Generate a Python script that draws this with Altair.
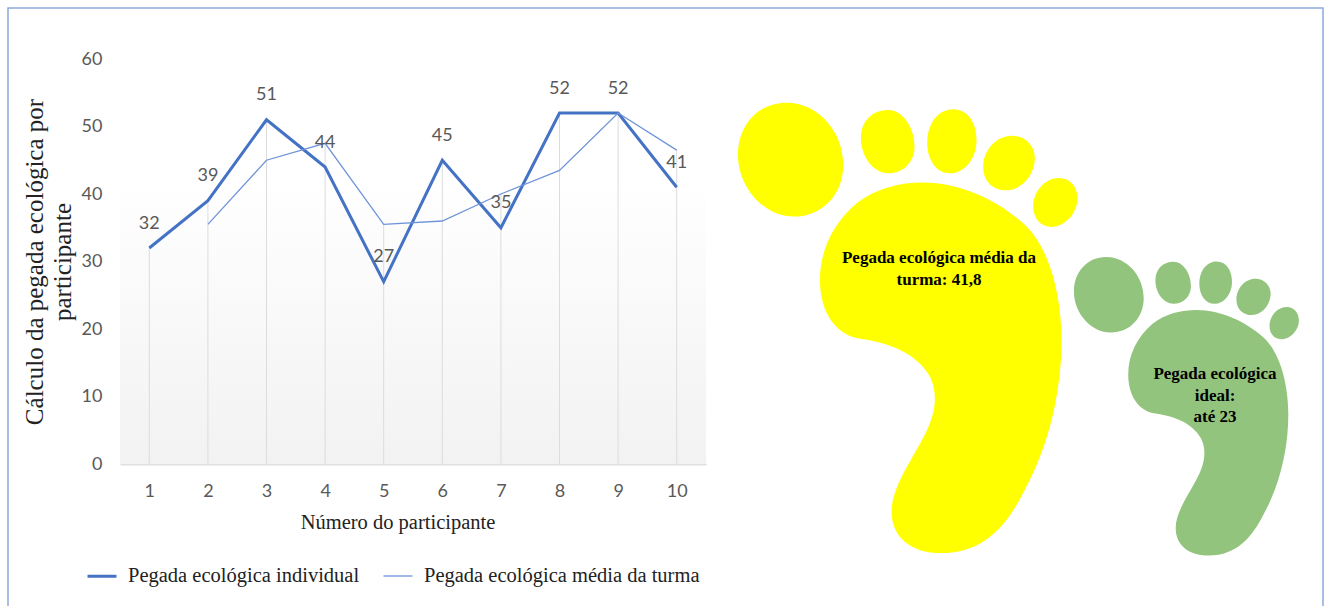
import altair as alt
import pandas as pd

participantes = [1, 2, 3, 4, 5, 6, 7, 8, 9, 10]
individual = [32, 39, 51, 44, 27, 45, 35, 52, 52, 41]
media_turma = [None, 35.5, 45, 47.5, 35.5, 36, 40, 43.5, 52, 46.5]

SERIE_IND = "Pegada ecológica individual"
SERIE_MED = "Pegada ecológica média da turma"

SERIF = "Liberation Serif"
NARROW = "Lato, sans-serif"
GREY = "#595959"
BLUE = "#4472C4"

linhas = pd.DataFrame(
    [{"p": p, "serie": SERIE_IND, "valor": v} for p, v in zip(participantes, individual)]
    + [{"p": p, "serie": SERIE_MED, "valor": v} for p, v in zip(participantes, media_turma) if v is not None]
)
pontos = pd.DataFrame({
    "p": participantes,
    "valor": individual,
    "topo": [max(a, b or 0) for a, b in zip(individual, media_turma)],
})

x_enc = alt.X(
    "p:O",
    scale=alt.Scale(type="point", padding=0.5),
    axis=alt.Axis(
        title="Número do participante",
        titleFont=SERIF, titleFontSize=20.5, titleFontWeight="normal", titleColor="#222222",
        titlePadding=12, titleX=277.5, titleAlign="center",
        labelAngle=0, labelFont=NARROW, labelFontSize=18, labelColor=GREY, labelPadding=18,
        ticks=False, grid=False,
        domainColor="#e0e0e0", domainWidth=2,
    ),
)
eixo_y = alt.Axis(
    title=["Cálculo da pegada ecológica por", "participante"],
    titleFont=SERIF, titleFontSize=25, titleFontWeight="normal", titleColor="#222222",
    titlePadding=6, titleLineHeight=28,
    values=[0, 10, 20, 30, 40, 50, 60],
    labelFont=NARROW, labelFontSize=18, labelColor=GREY, labelPadding=18,
    ticks=False, grid=False, domain=False,
)
escala_y = alt.Scale(domain=[0, 60])
y_enc = alt.Y("valor:Q", scale=escala_y, axis=eixo_y)

# Soft grey wash behind the plot
fundo = alt.Chart(pontos).mark_rect(
    fill=alt.Gradient(
        gradient="linear", x1=0, x2=0, y1=0, y2=1,
        stops=[
            alt.GradientStop(offset=0.3, color="#ffffff"),
            alt.GradientStop(offset=1, color="#f2f2f2"),
        ],
    )
).encode(x=alt.value(0), x2=alt.value(586), y=alt.value(0), y2=alt.value(405))

# Drop lines from the highest series down to the baseline
quedas = alt.Chart(pontos).mark_rule(color="#dcdcdc", strokeWidth=1).encode(
    x=x_enc, y=alt.Y("topo:Q", scale=escala_y, axis=eixo_y), y2=alt.datum(0)
)

series = alt.Chart(linhas).mark_line().encode(
    x=x_enc,
    y=y_enc,
    color=alt.Color(
        "serie:N",
        scale=alt.Scale(domain=[SERIE_IND, SERIE_MED], range=[BLUE, "#6F94DA"]),
        legend=alt.Legend(
            title=None, orient="none", legendX=-34, legendY=501, columns=2,
            symbolType="stroke", symbolSize=841, columnPadding=20, labelOffset=10,
            labelFont=SERIF, labelFontSize=20.5, labelColor="#222222", labelLimit=320,
            symbolOpacity=1,
        ),
    ),
    strokeWidth=alt.StrokeWidth(
        "serie:N",
        scale=alt.Scale(domain=[SERIE_IND, SERIE_MED], range=[3, 1.3]),
        legend=None,
    ),
    detail="serie:N",
)

rotulos = alt.Chart(pontos).mark_text(
    font=NARROW, fontSize=18, color=GREY, dy=-24.5, baseline="middle"
).encode(x=x_enc, y=y_enc, text="valor:Q")

# One outline holding the sole and the five toes, drawn at two sizes
PE = (
    "M54 195 C54 105 115 38 200 38 C295 38 370 125 370 225 C370 315 305 380 222 380 C130 380 54 290 54 195 Z "
    "M423 145 C423 95 455 60 505 60 C550 60 584 115 584 170 C584 215 550 250 505 250 C460 250 423 200 423 145 Z "
    "M622 160 C622 100 655 58 700 58 C745 58 770 100 770 150 C770 205 735 250 690 250 C650 250 622 210 622 160 Z "
    "M790 230 C790 180 830 137 875 137 C915 137 945 165 945 205 C945 255 905 301 860 301 C820 301 790 275 790 230 Z "
    "M940 350 C940 305 975 264 1018 264 C1050 264 1073 290 1073 325 C1073 370 1035 411 995 411 C962 411 940 385 940 350 Z "
    "M610 278 C720 278 830 330 910 400 C990 470 1025 620 1025 750 C1025 900 990 1060 915 1200 "
    "C860 1310 790 1390 665 1390 C570 1390 515 1340 515 1265 C515 1180 600 1080 630 1000 "
    "C650 950 650 900 630 860 C590 790 510 760 430 748 C350 740 300 670 300 570 "
    "C300 480 340 400 410 340 C470 295 540 278 610 278 Z"
)


def pe(cor, tamanho, px, py):
    return alt.Chart(pontos.head(1)).mark_point(
        shape=PE, filled=True, fill=cor, opacity=1, size=tamanho
    ).encode(x=alt.value(px), y=alt.value(py))


def nota(linhas_texto, px, py):
    return alt.Chart(pontos.head(1)).mark_text(
        text=linhas_texto, font=SERIF, fontSize=17, fontWeight="bold", color="#000000",
        lineHeight=21.5, align="center", baseline="middle",
    ).encode(x=alt.value(px), y=alt.value(py))


pe_media = pe("#FFFF00", 0.444, 600, 31)
pe_ideal = pe("#93C47D", 0.195, 942, 189.6)
nota_media = nota(["Pegada ecológica média da", "turma: 41,8"], 819, 199)
nota_ideal = nota(["Pegada ecológica", "ideal:", "até 23"], 1095, 315)

moldura = alt.Chart(pontos.head(1)).mark_rect(
    fill="transparent", stroke="#8EA9DB", strokeWidth=1.5
).encode(x=alt.value(-112), x2=alt.value(1203), y=alt.value(-51), y2=alt.value(600))

chart = (
    alt.layer(fundo, quedas, series, rotulos, pe_media, pe_ideal, nota_media, nota_ideal, moldura)
    .properties(
        width=586,
        height=405,
        padding={"left": 120, "top": 59, "right": 621, "bottom": 142},
        autosize=alt.AutoSizeParams(type="none"),
        background="#ffffff",
    )
    .configure_view(stroke=None)
)

chart.save("out.html", embed_options={"renderer": "svg", "actions": False})
